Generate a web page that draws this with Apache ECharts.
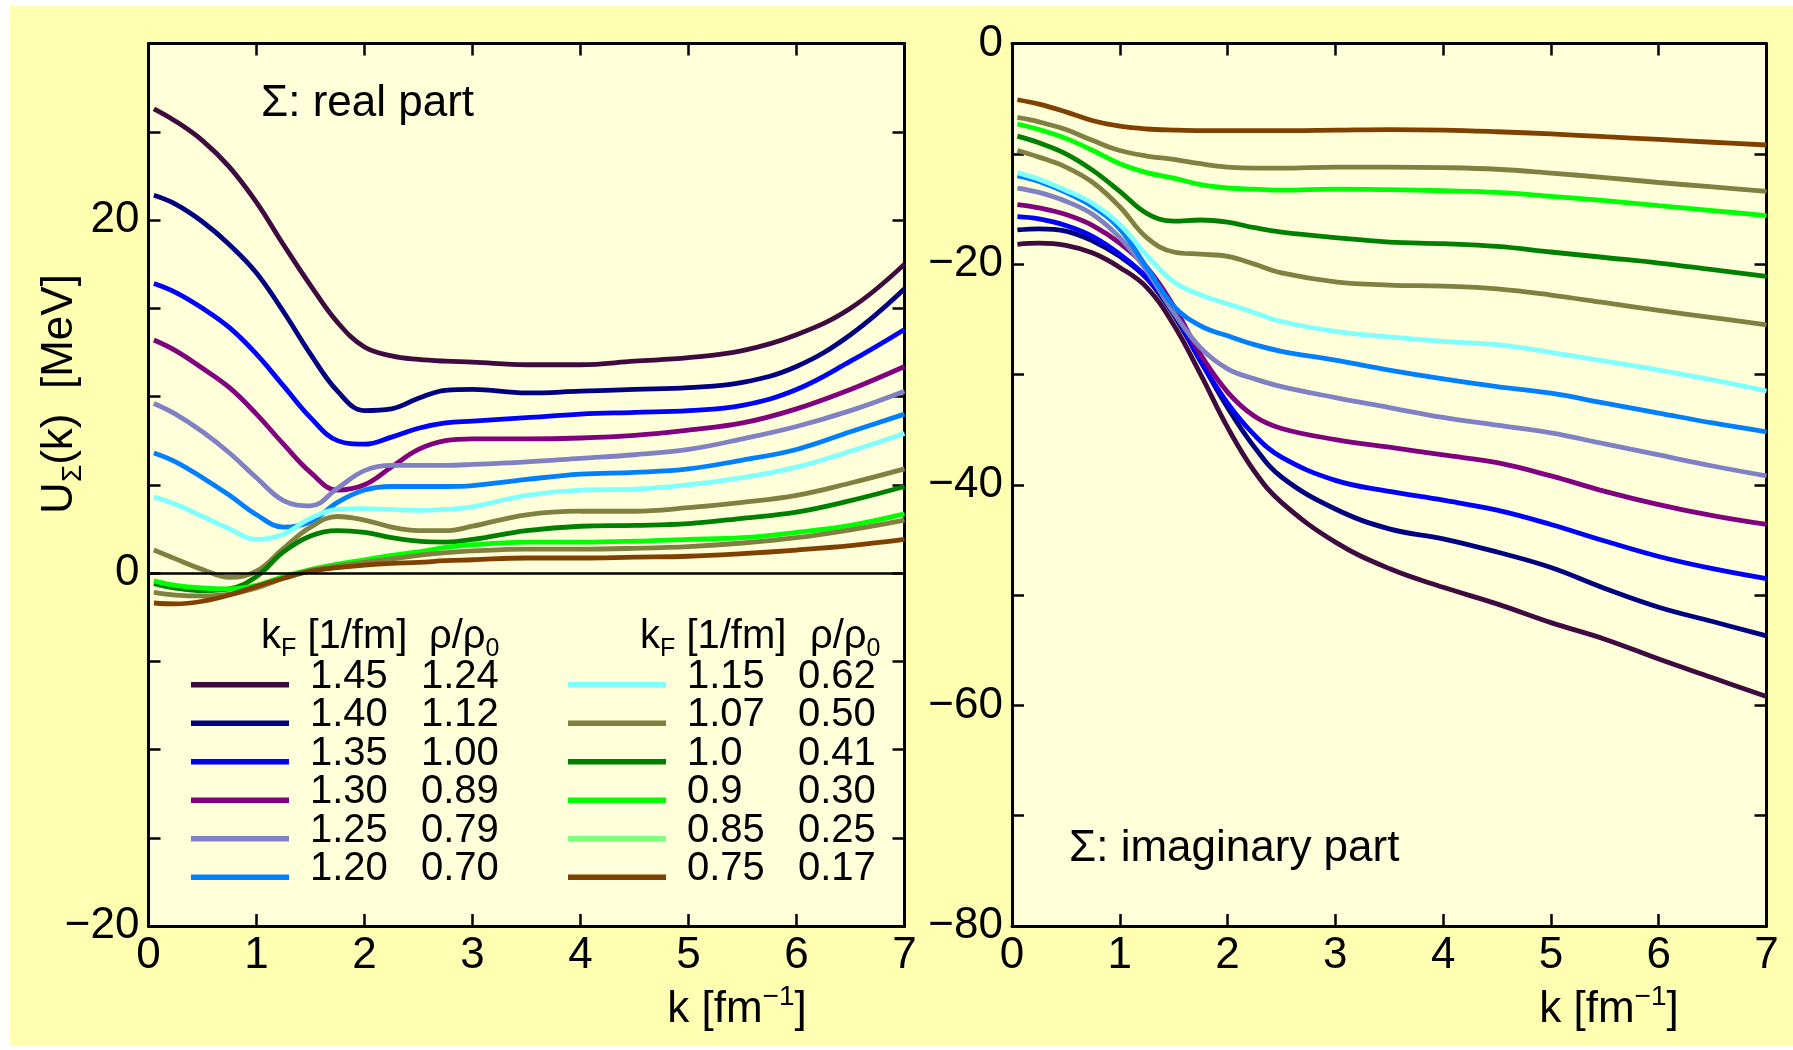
<!DOCTYPE html>
<html><head><meta charset="utf-8">
<script src="https://cdn.jsdelivr.net/npm/echarts@6/dist/echarts.min.js"></script>
<style>
html,body{margin:0;padding:0;background:#fff;}
#bg{position:absolute;left:10px;top:6px;width:1783px;height:1040px;background:#ffffb2;}
#c{position:absolute;left:0;top:0;width:1793px;height:1050px;}
</style>
</head><body><div id="bg"></div><div id="c"></div>
<script>
// ---- data ----
const kF  = ['1.45','1.40','1.35','1.30','1.25','1.20','1.15','1.07','1.0','0.9','0.85','0.75'];
const rho = ['1.24','1.12','1.00','0.89','0.79','0.70','0.62','0.50','0.41','0.30','0.25','0.17'];
const lineColors   = ['#3f0a40','#000080','#0000ff','#800080','#8080c4','#0080ff','#80ffff','#808040','#008000','#00ff00','#808040','#804000'];
const legendColors = ['#3f0a40','#000080','#0000ff','#800080','#8080c4','#0080ff','#80ffff','#808040','#008000','#00ff00','#80ff80','#804000'];

const kReal = [0.05,0.25,0.5,0.75,1,1.25,1.5,1.75,2,2.25,2.5,2.75,3,3.5,4,4.5,5,5.5,6,6.5,7];
const re145 = [26.3,25.6,24.5,23.0,21.0,18.6,16.3,14.2,12.8,12.3,12.1,12.0,11.95,11.8,11.8,12.0,12.2,12.6,13.5,15.0,17.5];
const re140 = [21.4,20.9,19.9,18.6,17.0,14.8,12.4,10.3,9.2,9.3,9.9,10.35,10.4,10.2,10.3,10.4,10.5,10.8,11.7,13.5,16.1];
const re135 = [16.4,15.9,15.0,13.9,12.4,10.6,8.8,7.5,7.3,7.7,8.2,8.5,8.6,8.8,9.0,9.1,9.2,9.5,10.4,12.0,13.8];
const re130 = [13.2,12.6,11.6,10.5,9.0,7.3,5.7,4.7,5.0,6.0,7.0,7.5,7.6,7.6,7.65,7.8,8.1,8.5,9.3,10.4,11.7];
const re125 = [9.6,9.0,8.0,6.8,5.4,4.1,3.8,4.8,5.8,6.1,6.1,6.1,6.15,6.3,6.5,6.7,7.0,7.6,8.3,9.2,10.3];
const re120 = [6.8,6.3,5.4,4.4,3.3,2.6,2.9,4.0,4.7,4.9,4.9,4.9,4.95,5.3,5.6,5.7,5.9,6.4,7.0,8.0,9.0];
const re115 = [4.3,3.9,3.2,2.5,1.9,2.2,3.1,3.6,3.65,3.6,3.55,3.6,3.75,4.4,4.7,4.75,5.0,5.4,6.0,6.9,7.9];
const re107 = [1.3,0.8,0.2,-0.25,0.1,1.4,2.6,3.2,3.0,2.6,2.4,2.4,2.65,3.3,3.5,3.5,3.7,4.0,4.4,5.1,5.9];
const re100 = [-0.6,-0.85,-1.0,-0.9,-0.2,1.2,2.1,2.4,2.3,2.0,1.8,1.75,1.9,2.4,2.65,2.7,2.8,3.1,3.45,4.1,4.9];
const re090 = [-0.45,-0.7,-0.85,-0.9,-0.7,-0.2,0.2,0.5,0.75,1.0,1.2,1.45,1.6,1.75,1.75,1.8,1.9,2.0,2.3,2.7,3.35];
const re085 = [-1.1,-1.25,-1.3,-1.2,-0.85,-0.3,0.15,0.4,0.6,0.8,1.0,1.15,1.25,1.35,1.35,1.4,1.5,1.7,2.0,2.45,3.0];
const re075 = [-1.7,-1.75,-1.6,-1.25,-0.75,-0.3,0.1,0.3,0.45,0.55,0.6,0.7,0.75,0.85,0.85,0.9,0.95,1.1,1.3,1.55,1.9];

const kImag = [0.05,0.25,0.5,0.75,1,1.25,1.5,1.75,2,2.25,2.5,3,3.5,4,4.5,5,5.5,6,6.5,7];
const im145 = [-18.2,-18.1,-18.3,-19.0,-20.3,-22.1,-25.5,-30.0,-34.8,-38.8,-41.6,-45.2,-47.6,-49.3,-50.8,-52.5,-54.0,-55.8,-57.5,-59.2];
const im140 = [-16.9,-16.8,-17.0,-17.9,-19.3,-21.3,-24.6,-28.8,-33.0,-36.6,-39.3,-42.2,-44.0,-44.9,-46.1,-47.5,-49.4,-51.1,-52.4,-53.7];
const im135 = [-15.7,-15.9,-16.5,-17.5,-19.1,-21.2,-24.3,-28.8,-32.6,-35.5,-37.5,-39.6,-40.6,-41.4,-42.3,-43.6,-45.1,-46.5,-47.6,-48.5];
const im130 = [-14.6,-14.9,-15.5,-16.5,-18.1,-20.3,-23.8,-28.2,-31.6,-33.8,-34.9,-35.9,-36.6,-37.3,-38.0,-39.2,-40.6,-41.8,-42.8,-43.6];
const im125 = [-13.1,-13.5,-14.3,-15.5,-17.6,-20.6,-24.4,-27.6,-29.5,-30.4,-31.1,-32.1,-33.0,-33.9,-34.6,-35.3,-36.3,-37.3,-38.3,-39.2];
const im120 = [-12.0,-12.5,-13.5,-14.8,-16.8,-20.3,-23.8,-25.6,-26.5,-27.3,-27.9,-28.7,-29.6,-30.4,-31.1,-31.7,-32.6,-33.5,-34.4,-35.2];
const im115 = [-11.7,-12.3,-13.3,-14.5,-16.4,-19.2,-21.6,-22.8,-23.6,-24.4,-25.2,-26.1,-26.6,-27.0,-27.3,-28.0,-28.8,-29.6,-30.5,-31.5];
const im107 = [-9.7,-10.3,-11.2,-12.6,-14.8,-17.6,-18.9,-19.1,-19.3,-20.0,-20.8,-21.6,-21.9,-22.0,-22.25,-22.8,-23.5,-24.2,-24.85,-25.5];
const im100 = [-8.4,-9.0,-10.0,-11.5,-13.4,-15.4,-16.1,-16.0,-16.2,-16.7,-17.1,-17.6,-18.0,-18.15,-18.4,-18.9,-19.4,-19.9,-20.5,-21.1];
const im090 = [-7.3,-7.8,-8.6,-9.7,-10.9,-11.7,-12.2,-12.8,-13.1,-13.2,-13.3,-13.2,-13.25,-13.35,-13.5,-13.85,-14.25,-14.7,-15.15,-15.6];
const im085 = [-6.7,-7.1,-7.8,-8.8,-9.7,-10.2,-10.5,-10.9,-11.2,-11.3,-11.3,-11.2,-11.2,-11.25,-11.4,-11.75,-12.15,-12.6,-13.0,-13.4];
const im075 = [-5.1,-5.5,-6.2,-7.0,-7.5,-7.75,-7.85,-7.9,-7.9,-7.9,-7.9,-7.85,-7.8,-7.85,-8.0,-8.2,-8.45,-8.7,-8.95,-9.2];

const realData = [re145,re140,re135,re130,re125,re120,re115,re107,re100,re090,re085,re075];
const imagData = [im145,im140,im135,im130,im125,im120,im115,im107,im100,im090,im085,im075];

// ---- styling ----
const FN = "'Liberation Sans Narrow','Liberation Sans',Arial,sans-serif";
const FR = "'Liberation Sans',Arial,sans-serif";
const fmt = v => v < 0 ? '\u2212' + (-v) : String(v);
const AX = {color:'#000', width:3};
const LW = 4.8;

function xAx(grid, pos, labels) {
  return {type:'value', gridIndex:grid, position:pos, min:0, max:7, interval:1,
    axisLine:{show:true, onZero:false, lineStyle:AX},
    axisTick:{show:true, inside:true, length:12, lineStyle:{color:'#000', width:2.5}},
    axisLabel:{show:labels, margin:8, color:'#000', fontSize:44, fontFamily:FN},
    splitLine:{show:false}};
}
function yAx(grid, pos, min, max, iv, labels) {
  return {type:'value', gridIndex:grid, position:pos, min:min, max:max, interval:iv,
    axisLine:{show:true, onZero:false, lineStyle:AX},
    axisTick:{show:true, inside:true, length:12, lineStyle:{color:'#000', width:2.5}},
    axisLabel:{show:labels, margin:9, color:'#000', fontSize:44, fontFamily:FN,
      formatter: v => (v % 20 === 0 ? fmt(v) : '')},
    splitLine:{show:false}};
}

const series = [];
kF.forEach((n, i) => {
  series.push({name:n, type:'line', xAxisIndex:0, yAxisIndex:0, smooth:0.4, symbol:'none',
    color:lineColors[i], lineStyle:{width:LW, color:lineColors[i]},
    data: kReal.map((k, j) => [k, realData[i][j]]),
    markLine: i === 0 ? {silent:true, symbol:'none', label:{show:false},
      lineStyle:{color:'#000', width:2.5, type:'solid'}, data:[{yAxis:0}]} : undefined});
  series.push({name:n, type:'line', xAxisIndex:2, yAxisIndex:2, smooth:0.4, symbol:'none',
    color:lineColors[i], lineStyle:{width:LW, color:lineColors[i]},
    data: kImag.map((k, j) => [k, imagData[i][j]])});
});

// legend icon: a line sitting in the lower part of the icon box
const LEG_ICON = 'path://M0,0 L0.01,0 L0,0.01 Z M0,16.5 L98,16.5 L98,22 L0,22 Z';
function legendCol(idx0, left) {
  const rich = {
    s:{width:16, fontSize:40, fontFamily:FN},
    a:{width:111, fontSize:40, fontFamily:FN, color:'#000'},
    b:{fontSize:40, fontFamily:FN, color:'#000'}
  };
  const data = [];
  for (let i = idx0; i < idx0 + 6; i++) data.push({name:kF[i], itemStyle:{color:legendColors[i]}});
  return {orient:'vertical', left:left, top:656.5, padding:0, itemGap:-1.5, itemWidth:98, itemHeight:22,
    icon:LEG_ICON, symbolKeepAspect:false, selectedMode:false, data:data,
    formatter: name => '{s| }{a|' + name + '}{b|' + rho[kF.indexOf(name)] + '}',
    textStyle:{fontSize:40, fontFamily:FN, color:'#000', rich:rich}};
}

const headRich = {
  m:{fontSize:40, fontFamily:FN, fill:'#000', lineHeight:50},
  s:{fontSize:25, fontFamily:FN, fill:'#000', lineHeight:25, verticalAlign:'bottom'}
};
const xNameText = '{m|k [fm}{p|\u22121}{m|]}';
const xNameRich = {
  m:{fontSize:44, fontFamily:FR, fill:'#000', lineHeight:54},
  p:{fontSize:28, fontFamily:FR, fill:'#000', lineHeight:28, verticalAlign:'top'}
};
function head(x, text) {
  return {type:'text', x:x, y:637, style:{text:text, rich:headRich, align:'left', verticalAlign:'middle'}};
}

const option = {
  animation:false,
  grid:[
    {left:148.5, top:43.5, width:756, height:882.5, show:true, backgroundColor:'#ffffda', borderWidth:0},
    {left:1012, top:43.5, width:754.5, height:882.5, show:true, backgroundColor:'#ffffda', borderWidth:0}
  ],
  xAxis:[xAx(0,'bottom',true), xAx(0,'top',false), xAx(1,'bottom',true), xAx(1,'top',false)],
  yAxis:[yAx(0,'left',-20,30,5,true), yAx(0,'right',-20,30,5,false),
         yAx(1,'left',-80,0,10,true), yAx(1,'right',-80,0,10,false)],
  legend:[legendCol(0,191), legendCol(6,568)],
  series:series,
  graphic:[
    {type:'text', x:261, y:104, style:{text:'\u03a3: real part', font:'44px ' + FN, fill:'#000', align:'left', verticalAlign:'middle'}},
    {type:'text', x:1069, y:849, style:{text:'\u03a3: imaginary part', font:'44px ' + FN, fill:'#000', align:'left', verticalAlign:'middle'}},
    head(261, '{m|k}{s|F}{m| [1/fm]}'),
    head(429, '{m|\u03c1/\u03c1}{s|0}'),
    head(640, '{m|k}{s|F}{m| [1/fm]}'),
    head(810, '{m|\u03c1/\u03c1}{s|0}'),
    {type:'text', x:60, y:394, rotation:Math.PI/2, style:{text:'{m|U}{s|\u03a3}{m|(k)  [MeV]}', align:'center', verticalAlign:'middle',
      rich:{m:{fontSize:44, fontFamily:FR, fill:'#000', lineHeight:54}, s:{fontSize:28, fontFamily:FR, fill:'#000', lineHeight:28, verticalAlign:'bottom'}}}},
    {type:'text', x:737, y:1010, style:{text:xNameText, rich:xNameRich, align:'center', verticalAlign:'middle'}},
    {type:'text', x:1609, y:1010, style:{text:xNameText, rich:xNameRich, align:'center', verticalAlign:'middle'}}
  ]
};
const chart = echarts.init(document.getElementById('c'), null, {renderer:'canvas'});
chart.setOption(option);
</script>
</body></html>
